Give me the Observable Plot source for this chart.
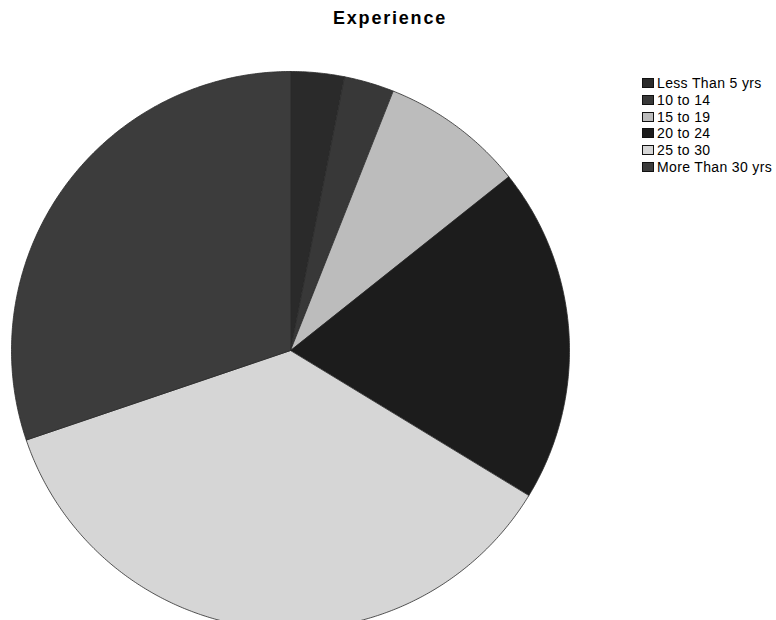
<!DOCTYPE html>
<html>
<head>
<meta charset="utf-8">
<script src="https://cdn.jsdelivr.net/npm/d3@7"></script>
<script src="https://cdn.jsdelivr.net/npm/@observablehq/plot@0.6"></script>
<style>
  body { margin: 0; background: #fff; font-family: "Liberation Sans", Arial, sans-serif; }
  #wrap { position: relative; width: 776px; height: 620px; overflow: hidden; }
  #title { height: 27px; padding-top: 9px; padding-left: 4px; text-align: center; font-weight: bold;
           font-size: 18px; line-height: 18px; letter-spacing: 1.8px; color: #000; }
  #legend { position: absolute; left: 642px; top: 74.6px; font-size: 14px; letter-spacing: 0.35px; color: #000; }
  .row { height: 16.8px; display: flex; align-items: center; white-space: nowrap; }
  .sw { width: 12px; height: 10px; margin-right: 3px; box-sizing: border-box; border: 1px solid #111; flex: none; }
</style>
</head>
<body>
<div id="wrap">
  <div id="title">Experience</div>
  <div id="chart"></div>
  <div id="legend"></div>
</div>
<script>
// Data
const categories = ["Less Than 5 yrs", "10 to 14", "15 to 19", "20 to 24", "25 to 30", "More Than 30 yrs"];
const values = [3.1, 2.9, 8.3, 19.4, 36.1, 30.2];
const palette = ["#2a2a2a", "#383838", "#bcbcbc", "#1c1c1c", "#d6d6d6", "#3c3c3c"];

// Layout
const W = 776, H = 584, cx = 290, cy = 314, R = 279;

// Build slices (clockwise from 12 o'clock) as planar polygons on a unit circle
const arcs = d3.pie().sort(null).value(d => d.value)(categories.map((c, i) => ({category: c, value: values[i]})));
const features = arcs.map(a => {
  const ring = [[0, 0]];
  const n = Math.max(2, Math.ceil((a.endAngle - a.startAngle) / (Math.PI / 360)));
  for (let k = 0; k <= n; k++) {
    const t = a.startAngle + (a.endAngle - a.startAngle) * k / n;
    ring.push([Math.sin(t), -Math.cos(t)]);
  }
  ring.push([0, 0]);
  return {type: "Feature", properties: {category: a.data.category}, geometry: {type: "Polygon", coordinates: [ring]}};
});

const domain = {type: "MultiPoint", coordinates: [[-cx / R, -cy / R], [(W - cx) / R, (H - cy) / R]]};

const plot = Plot.plot({
  width: W,
  height: H,
  margin: 0,
  projection: {type: "identity", domain, inset: 0},
  color: {domain: categories, range: palette},
  marks: [
    Plot.geo(features, {fill: d => d.properties.category, stroke: "#2a2a2a", strokeWidth: 0.8})
  ]
});
document.getElementById("chart").appendChild(plot);

// Legend built from the same scale
const color = plot.scale("color");
const colorOf = d3.scaleOrdinal(color.domain, color.range);
const legend = document.getElementById("legend");
categories.forEach(c => {
  const row = document.createElement("div");
  row.className = "row";
  const sw = document.createElement("span");
  sw.className = "sw";
  sw.style.background = colorOf(c);
  const tx = document.createElement("span");
  tx.textContent = c;
  row.appendChild(sw);
  row.appendChild(tx);
  legend.appendChild(row);
});
</script>
</body>
</html>
